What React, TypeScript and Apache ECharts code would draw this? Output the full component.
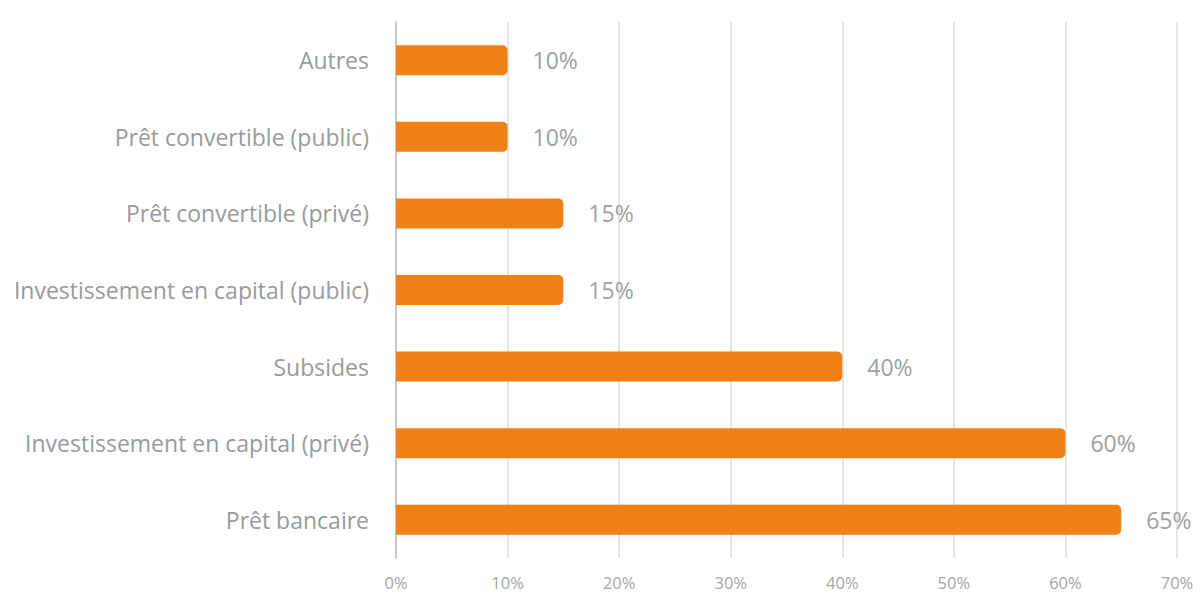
import React, { useEffect, useRef } from "react";
import * as echarts from "echarts";

const categories = [
  "Prêt bancaire",
  "Investissement en capital (privé)",
  "Subsides",
  "Investissement en capital (public)",
  "Prêt convertible (privé)",
  "Prêt convertible (public)",
  "Autres",
];
const values = [65, 60, 40, 15, 15, 10, 10];

export default function App() {
  const ref = useRef<HTMLDivElement>(null);
  useEffect(() => {
    if (!ref.current) return;
    const chart = echarts.init(ref.current, null, { renderer: "svg" });
    chart.setOption({
      animation: false,
      backgroundColor: "#ffffff",
      textStyle: { fontFamily: "'Open Sans', sans-serif" },
      grid: { left: 396, right: 21, top: 22, bottom: 40, containLabel: false },
      xAxis: {
        type: "value",
        min: 0,
        max: 70,
        interval: 10,
        axisLine: { show: false },
        axisTick: { show: false },
        axisLabel: {
          formatter: "{value}%",
          color: "#a6a6a6",
          fontSize: 16.5,
          margin: 16,
          fontFamily: "'Open Sans', sans-serif",
        },
        splitLine: { lineStyle: { color: "#dedede", width: 1.5 } },
      },
      yAxis: {
        type: "category",
        data: categories,
        axisLine: { show: true, lineStyle: { color: "#c8c8c8", width: 2 } },
        axisTick: { show: false },
        axisLabel: {
          color: "#9a9a9a",
          fontSize: 23,
          margin: 27,
          fontFamily: "'Open Sans', sans-serif",
        },
      },
      series: [
        {
          type: "bar",
          data: values,
          barWidth: 30,
          itemStyle: { color: "#EF8117", borderRadius: [0, 5, 5, 0] },
          label: {
            show: true,
            position: "right",
            distance: 25,
            formatter: "{c}%",
            color: "#a0a0a0",
            fontSize: 23,
            fontFamily: "'Open Sans', sans-serif",
          },
        },
      ],
    });
    return () => chart.dispose();
  }, []);
  return <div ref={ref} style={{ width: 1198, height: 598, position: "absolute", left: 0, top: 0 }} />;
}
